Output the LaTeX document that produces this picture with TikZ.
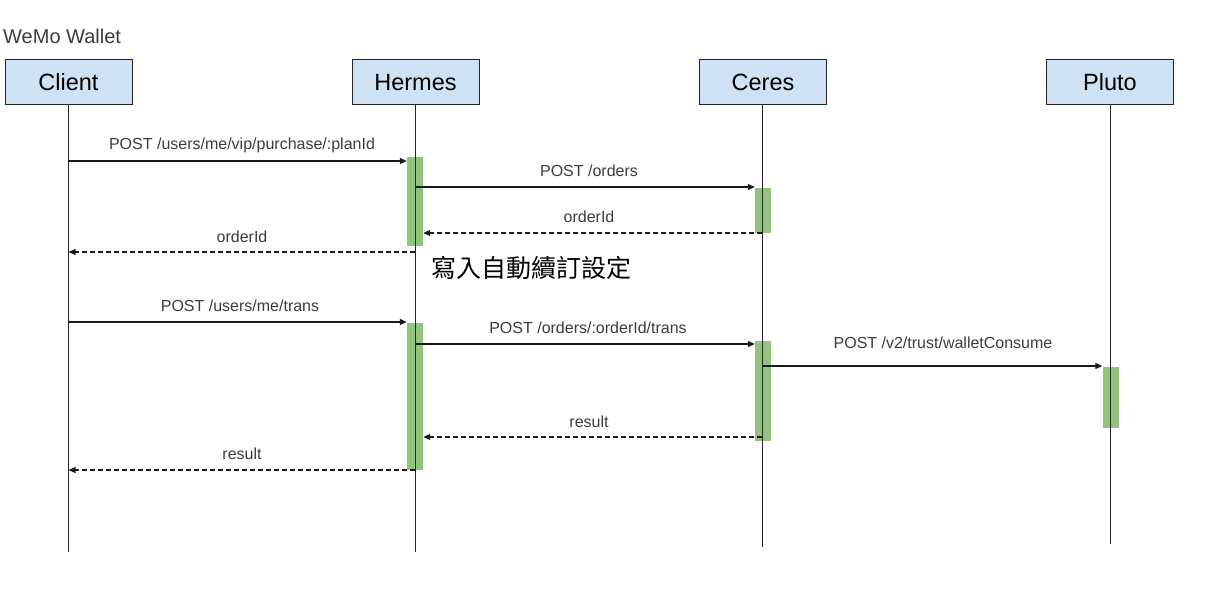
\documentclass[tikz,border=0pt]{standalone}
\usepackage{fontspec}
\setmainfont{Liberation Sans}
\newfontfamily\cjk{Noto Sans CJK TC}
\usetikzlibrary{arrows.meta}
\definecolor{boxblue}{HTML}{CFE2F3}
\definecolor{bargreen}{HTML}{93C47D}
\definecolor{lbl}{HTML}{3C3C3C}
\tikzset{
  actor/.style={draw=black!85, line width=1pt, fill=boxblue, minimum width=127pt, minimum height=45pt, inner sep=0pt, font=\fontsize{23.5}{26}\selectfont},
  life/.style={draw=black!85, line width=1pt},
  actbar/.style={fill=bargreen, draw=none, minimum width=16pt, inner sep=0pt},
  msg/.style={draw=black!90, line width=1.1pt, -{Triangle[length=7pt,width=6pt]}},
  ret/.style={msg, dash pattern=on 5pt off 3pt},
  mlabel/.style={text=lbl, font=\fontsize{16}{19}\selectfont, inner sep=0pt},
}
\begin{document}
\begin{tikzpicture}[x=1pt,y=-1pt]
\useasboundingbox (0,0) rectangle (1206,593);
% title
\node[anchor=west, text=lbl, font=\fontsize{20}{23}\selectfont, inner sep=0pt] (title) at (3,36) {WeMo Wallet};
% actors
\node[actor] (client) at (68.5,82.5) {Client};
\node[actor] (hermes) at (415.5,82.5) {Hermes};
\node[actor] (ceres) at (763,82.5) {Ceres};
\node[actor] (pluto) at (1110,82.5) {Pluto};
% lifeline ends
\coordinate (clientEnd) at (68,552);
\coordinate (hermesEnd) at (415,552);
\coordinate (ceresEnd) at (762,547);
\coordinate (plutoEnd) at (1110,544);
% activation bars
\node[actbar, minimum height=89pt] (hb1) at (415,201.5) {};
\node[actbar, minimum height=45pt] (cb1) at (763,210.5) {};
\node[actbar, minimum height=147pt] (hb2) at (415,396.5) {};
\node[actbar, minimum height=100pt] (cb2) at (763,391) {};
\node[actbar, minimum height=61pt] (pb1) at (1110.5,397.5) {};
% lifelines
\draw[life] (client.south) -- (client.south |- clientEnd);
\draw[life] (hermes.south) -- (hermes.south |- hermesEnd);
\draw[life] (ceres.south -| ceresEnd) -- (ceresEnd);
\draw[life] (pluto.south) -- (pluto.south |- plutoEnd);
% message anchors
\coordinate (m1) at (68,161);
\coordinate (m2) at (415,187);
\coordinate (m3) at (762,233);
\coordinate (m4) at (415,252);
\coordinate (m5) at (68,322);
\coordinate (m6) at (415,344);
\coordinate (m7) at (763,366);
\coordinate (m8) at (762,437);
\coordinate (m9) at (415,470);
% messages
\draw[msg] (m1) -- (hb1.west |- m1);
\node[mlabel] (l1) at (242,145) {POST /users/me/vip/purchase/:planId};
\draw[msg] (m2) -- (cb1.west |- m2);
\node[mlabel] (l2) at (589,171) {POST /orders};
\draw[ret] (m3) -- (hb1.east |- m3);
\node[mlabel] (l3) at (589,217) {orderId};
\draw[ret] (m4) -- (client.south |- m4);
\node[mlabel] (l4) at (242,237) {orderId};
\node[anchor=west, inner sep=0pt, font=\cjk\fontsize{25}{29}\selectfont] (note) at (431,268) {寫入自動續訂設定};
\draw[msg] (m5) -- (hb2.west |- m5);
\node[mlabel] (l5) at (240,306) {POST /users/me/trans};
\draw[msg] (m6) -- (cb2.west |- m6);
\node[mlabel] (l6) at (588,328) {POST /orders/:orderId/trans};
\draw[msg] (m7) -- (pb1.west |- m7);
\node[mlabel] (l7) at (943,343) {POST /v2/trust/walletConsume};
\draw[ret] (m8) -- (hb2.east |- m8);
\node[mlabel] (l8) at (589,422) {result};
\draw[ret] (m9) -- (client.south |- m9);
\node[mlabel] (l9) at (242,454) {result};
\end{tikzpicture}
\end{document}
